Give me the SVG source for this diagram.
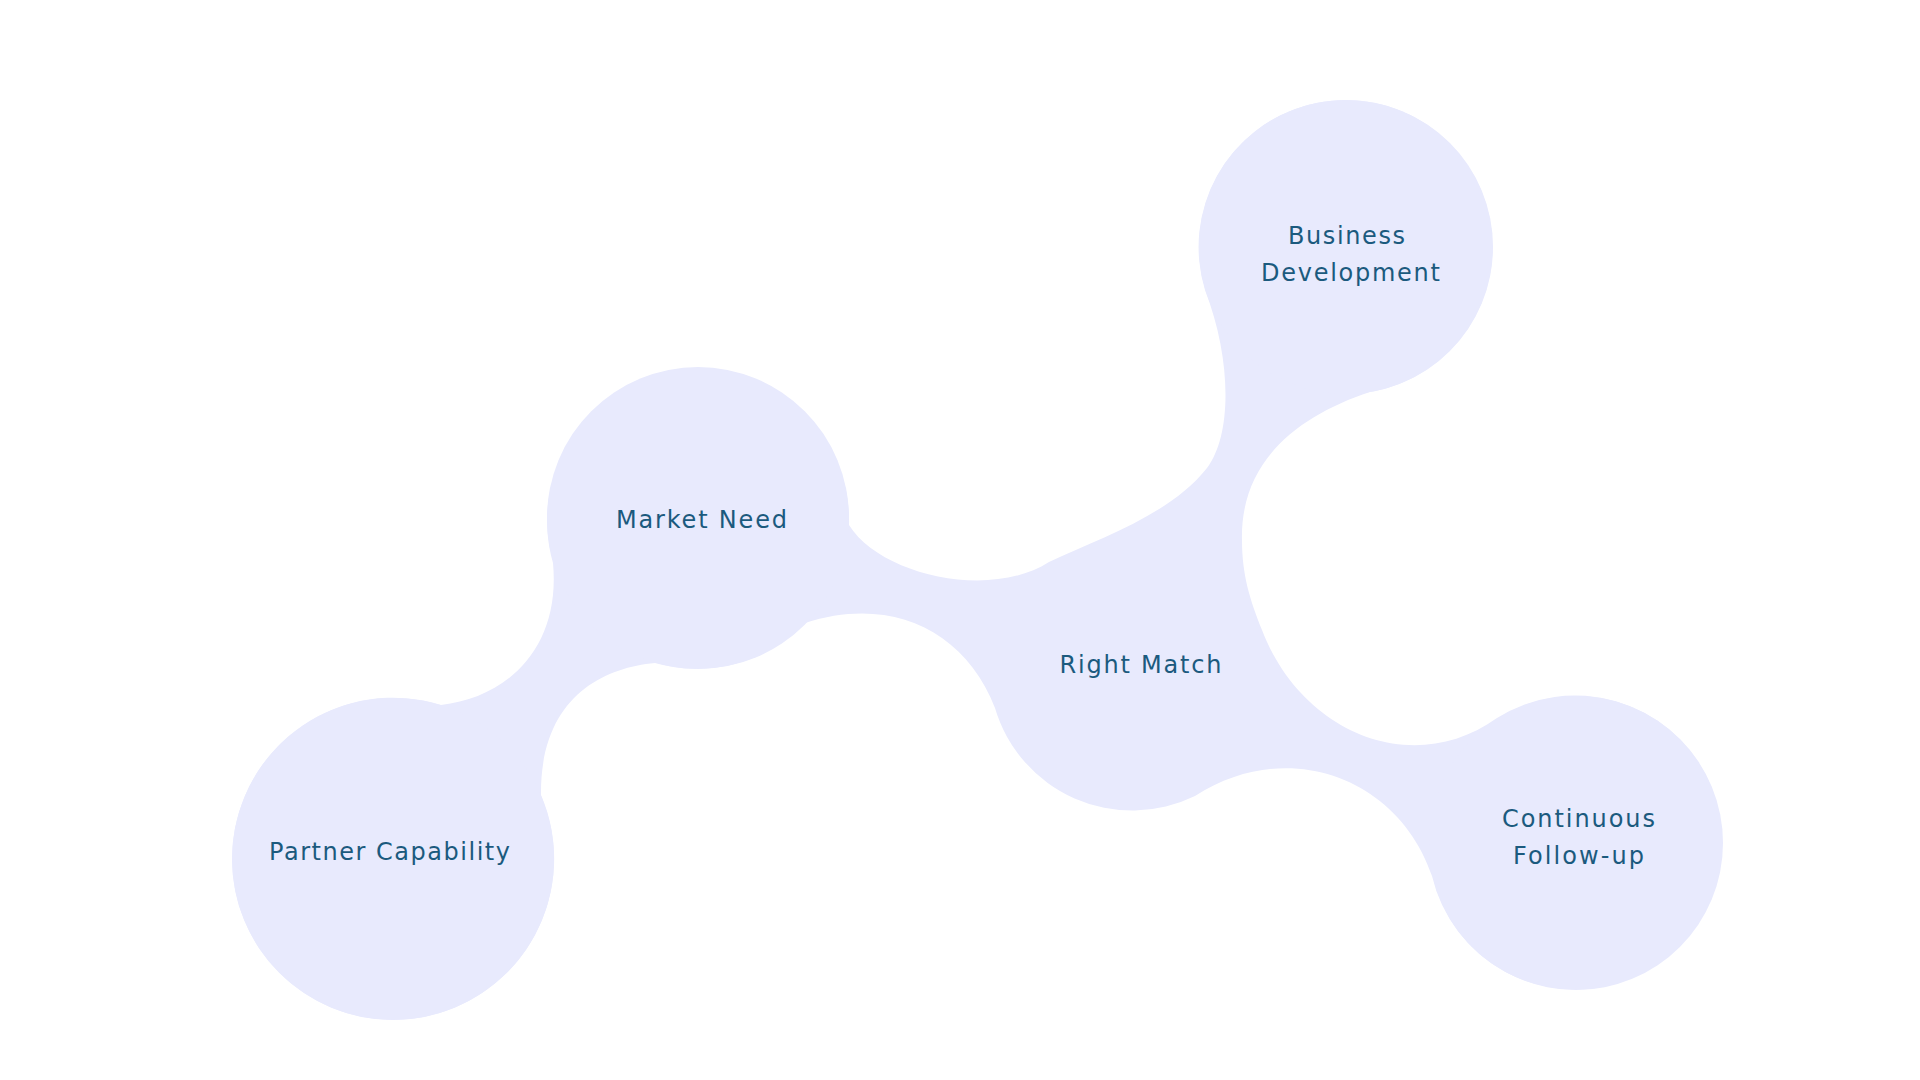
<svg xmlns="http://www.w3.org/2000/svg" width="1920" height="1080" viewBox="0 0 1920 1080">
<style>
.blob{fill:#E8EAFD;stroke:none}
.lbl{font-family:"DejaVu Sans","Liberation Sans",sans-serif;font-size:24px;fill:#1B5A7E;text-anchor:middle}
</style>
<rect width="1920" height="1080" fill="#FFFFFF"/>
<g id="connectors">
<path class="blob" d="M441,705 C505,698 561,650 553,563 A151,151 0 1 1 849,525 C880,575 990,600 1049,562 C1100,538 1170,515 1207,468 C1232,435 1232,360 1205,290 A147,147 0 1 1 1370,392 C1300,415 1240,460 1242,540 C1242,575 1250,600 1262,630 C1300,730 1410,780 1497,718 A147,147 0 1 1 1432,876 C1400,780 1290,735 1195,796 A143,143 0 0 1 995,708 C965,630 890,595 805,623 A151,151 0 0 1 655,663 C600,668 540,700 541,795 A161,161 0 1 1 441,705 Z"/>
</g>
<g id="node-partner-capability">
<circle class="blob" cx="393" cy="859" r="161"/>
<text class="lbl" x="389.5" y="860" textLength="241" lengthAdjust="spacing">Partner Capability</text>
</g>
<g id="node-market-need">
<circle class="blob" cx="698" cy="518" r="151"/>
<text class="lbl" x="701.5" y="528" textLength="171" lengthAdjust="spacing">Market Need</text>
</g>
<g id="node-right-match">
<text class="lbl" x="1140.5" y="673" textLength="162" lengthAdjust="spacing">Right Match</text>
</g>
<g id="node-business-development">
<circle class="blob" cx="1346" cy="247" r="147"/>
<text class="lbl" x="1346.5" y="243.5" textLength="117" lengthAdjust="spacing">Business</text>
<text class="lbl" x="1350.5" y="280.5" textLength="179" lengthAdjust="spacing">Development</text>
</g>
<g id="node-continuous-follow-up">
<circle class="blob" cx="1576" cy="843" r="147"/>
<text class="lbl" x="1578.5" y="826.5" textLength="153" lengthAdjust="spacing">Continuous</text>
<text class="lbl" x="1578.5" y="863.5" textLength="131" lengthAdjust="spacing">Follow-up</text>
</g>
</svg>
